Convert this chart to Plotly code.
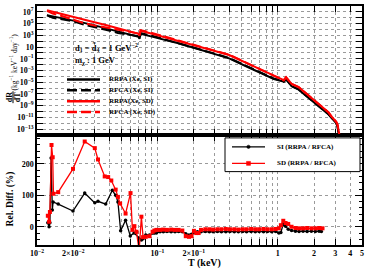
import numpy as np
import plotly.graph_objects as go

# ---------------- data: top panel (log10 of dR/dT) ----------------
T_rate = [0.0121, 0.0135, 0.015, 0.0175, 0.0199, 0.024, 0.03, 0.0379, 0.047, 0.058,
          0.0697, 0.0711, 0.0725, 0.09, 0.12, 0.152, 0.2, 0.28, 0.394, 0.55,
          0.75, 0.927, 1.05, 1.12, 1.17, 1.3, 1.49, 1.7, 1.91, 2.1,
          2.31, 2.5, 2.64, 2.79, 2.95, 3.05, 3.13, 3.2, 3.26]
si_rrpa_log10 = [6.44, 6.25, 6.06, 5.79, 5.59, 5.16, 4.69, 4.16, 3.67, 3.17,
                 2.75, 2.41, 3.26, 2.77, 2.14, 1.61, 0.88, -0.02, -0.94, -2.32,
                 -3.60, -4.45, -4.75, -4.90, -4.48, -5.69, -6.27, -7.25, -8.14, -8.82,
                 -9.50, -10.09, -10.52, -11.10, -11.62, -12.00, -12.56, -14.26, -15.10]
si_rfca_log10 = [6.39, 6.00, 5.82, 5.59, 5.41, 4.86, 4.45, 3.92, 3.41, 3.12,
                 2.85, 2.56, 3.38, 2.92, 2.20, 1.67, 0.95, 0.05, -0.87, -2.25,
                 -3.53, -4.38, -4.70, -4.92, -4.50, -5.66, -6.23, -7.21, -8.10, -8.78,
                 -9.46, -10.05, -10.48, -11.06, -11.58, -11.96, -12.52, -14.20, -15.00]
sd_rrpa_log10 = [7.29, 7.03, 6.80, 6.44, 6.15, 5.72, 5.23, 4.72, 4.21, 3.70,
                 3.26, 2.92, 3.77, 3.26, 2.58, 2.02, 1.34, 0.50, -0.36, -1.74,
                 -3.02, -3.88, -4.39, -4.65, -4.14, -5.30, -5.85, -6.84, -7.74, -8.46,
                 -9.16, -9.75, -10.18, -10.86, -11.40, -11.76, -12.22, -13.07, -14.26]
sd_rfca_log10 = [7.16, 6.71, 6.48, 6.04, 5.69, 5.15, 4.69, 4.31, 3.92, 3.50,
                 3.31, 3.07, 3.87, 3.41, 2.63, 2.07, 1.39, 0.55, -0.31, -1.70,
                 -2.98, -3.84, -4.36, -4.70, -4.18, -5.28, -5.83, -6.82, -7.72, -8.44,
                 -9.14, -9.73, -10.16, -10.84, -11.38, -11.74, -12.20, -13.05, -14.24]

# ---------------- data: bottom panel (relative difference, %) ----------------
T_si = [0.0123, 0.0126, 0.0128, 0.0131, 0.0134, 0.0136, 0.0150, 0.0199, 0.0249, 0.0302,
        0.0321, 0.0372, 0.0422, 0.0450, 0.0470, 0.0495, 0.0544, 0.0595, 0.0640, 0.0700,
        0.0736, 0.0760, 0.0800, 0.0860, 0.0944, 0.0981, 0.105, 0.112, 0.120, 0.130,
        0.140, 0.150, 0.161, 0.172, 0.183, 0.192, 0.201, 0.215, 0.230, 0.250,
        0.270, 0.290, 0.315, 0.340, 0.370, 0.400, 0.435, 0.470, 0.510, 0.550,
        0.600, 0.650, 0.700, 0.760, 0.820, 0.890, 0.960, 1.02, 1.06, 1.11,
        1.16, 1.22, 1.30, 1.40, 1.50, 1.62, 1.75, 1.90, 2.05, 2.20,
        2.30]
si_reldiff = [13, 0, 13, 219, 53, 79, 72, 50, 107, 76,
              81, 72, 116, 100, 79, -13, 21, -29, -20, -36,
              -42, -38, -26, -26, -20, -20, -16, -16, -15, -16,
              -16, -15, -16, -22, -26, -24, -18, -16, -16, -15,
              -16, -16, -15, -16, -16, -15, -16, -16, -15, -16,
              -15, -16, -15, -16, -15, -16, -15, -20, -18, 9,
              2, -8, -12, -14, -15, -14, -15, -14, -15, -14,
              -15]
T_sd = [0.0123, 0.0126, 0.0128, 0.0132, 0.0135, 0.0137, 0.0150, 0.0199, 0.0249, 0.0302,
        0.0321, 0.0365, 0.0390, 0.0414, 0.0450, 0.0470, 0.0490, 0.0544, 0.0598, 0.0620,
        0.0644, 0.0670, 0.0705, 0.0736, 0.0760, 0.0800, 0.0860, 0.0912, 0.0944, 0.0981,
        0.105, 0.112, 0.120, 0.130, 0.140, 0.150, 0.161, 0.172, 0.183, 0.192,
        0.201, 0.210, 0.220, 0.230, 0.250, 0.270, 0.290, 0.315, 0.340, 0.370,
        0.400, 0.435, 0.470, 0.510, 0.550, 0.600, 0.650, 0.700, 0.760, 0.820,
        0.890, 0.960, 1.02, 1.06, 1.11, 1.16, 1.22, 1.30, 1.40, 1.50,
        1.62, 1.75, 1.90, 2.05, 2.20, 2.35]
sd_reldiff = [35, 16, 47, 260, 221, 105, 110, 184, 271, 250,
              214, 160, 158, 147, 118, 95, 74, 42, 107, -10,
              2, -16, -75, 32, -33, -32, -30, -16, -12, -10,
              -10, -9, -10, -9, -10, -10, -12, -30, -32, -30,
              -13, -20, -20, -10, -8, -8, -9, -8, -8, -7,
              -8, -8, -9, -8, -8, -7, -8, -8, -7, -8,
              -8, -7, -5, 5, 19, 12, 9, 0, -4, -5,
              -5, -4, -5, -5, -4, -5]

assert len(T_si) == len(si_reldiff) and len(T_sd) == len(sd_reldiff)
for a in (si_rrpa_log10, si_rfca_log10, sd_rrpa_log10, sd_rfca_log10):
    assert len(a) == len(T_rate)

# ---------------- tick labels ----------------
x_tickvals = [0.01, 0.02, 0.03, 0.04, 0.05, 0.06, 0.07, 0.08, 0.09,
              0.1, 0.2, 0.3, 0.4, 0.5, 0.6, 0.7, 0.8, 0.9, 1, 2, 3, 4, 5]
x_ticktext = ["10<sup>−2</sup>", "2×10<sup>−2</sup>", "", "", "", "", "", "", "",
              "10<sup>−1</sup>", "2×10<sup>−1</sup>", "", "", "", "", "", "", "",
              "1", "2", "3", "4", "5"]
rate_exponents = list(range(-14, 9))
rate_ticktext = [("10" if e == 1 else "10<sup>%s</sup>" % str(e).replace("-", "−")) if e % 2 else ""
                 for e in rate_exponents]
diff_tickvals = [0, 100, 200]
diff_ticktext = ["0", "100", "200"]

# ---------------- layout geometry ----------------
W, H = 374, 270
L, R, TM, B = 37, 12, 4, 25
SPLIT = 134  # pixel row where the two panels meet


def px(x):
    return (x - L) / (W - L - R)


def py(y):
    return (H - B - y) / (H - TM - B)


FONT = "Liberation Serif"
BLACK = "#000000"
RED = "#ff0000"

fig = go.Figure()

# top panel curves
top_series = [
    (si_rrpa_log10, BLACK, "solid"),
    (si_rfca_log10, BLACK, "10px,4px"),
    (sd_rrpa_log10, RED, "solid"),
    (sd_rfca_log10, RED, "10px,4px"),
]
for vals, col, dash in top_series:
    fig.add_trace(go.Scatter(x=T_rate, y=10.0 ** np.array(vals), mode="lines",
                             line=dict(color=col, width=2, dash=dash),
                             xaxis="x2", yaxis="y2", showlegend=False))

# bottom panel
fig.add_trace(go.Scatter(x=T_si, y=si_reldiff, mode="lines+markers",
                         line=dict(color=BLACK, width=1.3),
                         marker=dict(color=BLACK, size=3.5, symbol="circle"),
                         xaxis="x", yaxis="y", showlegend=False))
fig.add_trace(go.Scatter(x=T_sd, y=sd_reldiff, mode="lines+markers",
                         line=dict(color=RED, width=1.3),
                         marker=dict(color=RED, size=4, symbol="square"),
                         xaxis="x", yaxis="y", showlegend=False))

dom_split = py(SPLIT)
grid = dict(showgrid=True, gridcolor="#9a9a9a", gridwidth=1, griddash="dot")
axline = dict(showline=True, linecolor=BLACK, linewidth=1.5, mirror="ticks",
              ticks="inside", tickcolor=BLACK, zeroline=False)
tickfont = dict(family=FONT, size=8, color=BLACK, weight="bold")

fig.update_layout(
    width=W, height=H,
    margin=dict(l=L, r=R, t=TM, b=B),
    paper_bgcolor="white", plot_bgcolor="white",
    showlegend=False,
    xaxis=dict(type="log", range=[-2, np.log10(5)], domain=[0, 1], anchor="y",
               tickmode="array", tickvals=x_tickvals, ticktext=x_ticktext,
               ticklen=6, tickfont=dict(family=FONT, size=8, color=BLACK, weight="bold"),
               **grid, **axline),
    yaxis=dict(range=[-58, 292], domain=[0, dom_split], anchor="x",
               tickmode="array", tickvals=diff_tickvals, ticktext=diff_ticktext,
               ticklen=7, tickfont=tickfont,
               minor=dict(tickvals=[-40, -20, 20, 40, 60, 80, 120, 140, 160, 180, 220, 240, 260, 280],
                          ticklen=3, tickcolor=BLACK, ticks="inside", showgrid=False),
               **grid, **axline),
    xaxis2=dict(type="log", range=[-2, np.log10(5)], domain=[0, 1], anchor="y2",
                matches="x", tickmode="array", tickvals=x_tickvals,
                ticktext=[""] * len(x_tickvals), ticklen=6, showticklabels=False,
                **grid, **axline),
    yaxis2=dict(type="log", range=[-14, 8], domain=[dom_split, 1], anchor="x2",
                tickmode="array", tickvals=[10.0 ** e for e in rate_exponents],
                ticktext=rate_ticktext, ticklen=6, tickfont=tickfont,
                **grid, **axline),
)

annotations = []
shapes = []

# panel separator (two frames meet here)
shapes.append(dict(type="line", xref="paper", yref="paper", x0=0, x1=1,
                   y0=dom_split, y1=dom_split, line=dict(color=BLACK, width=2)))

# annotations in top panel
annotations.append(dict(text="d<sub>1</sub> = d̃<sub>4</sub> = 1 GeV<sup>−2</sup>",
                        x=px(73), y=py(46), xref="paper", yref="paper",
                        xanchor="left", yanchor="middle", showarrow=False,
                        font=dict(family=FONT, size=8.5, color=BLACK, weight="bold")))
annotations.append(dict(text="m<sub>χ</sub> : 1 GeV",
                        x=px(73), y=py(59), xref="paper", yref="paper",
                        xanchor="left", yanchor="middle", showarrow=False,
                        font=dict(family=FONT, size=8.5, color=BLACK, weight="bold")))

# top legend (no frame)
top_legend = [("RRPA (Xe, SI)", BLACK, "solid", 78),
              ("RFCA (Xe, SI)", BLACK, "10px,4px", 89),
              ("RRPA(Xe, SD)", RED, "solid", 100),
              ("RFCA (Xe, SD)", RED, "10px,4px", 111)]
for label, col, dash, yy in top_legend:
    shapes.append(dict(type="line", xref="paper", yref="paper",
                       x0=px(67), x1=px(100), y0=py(yy), y1=py(yy),
                       line=dict(color=col, width=2.5, dash=dash)))
    annotations.append(dict(text=label, x=px(107), y=py(yy), xref="paper", yref="paper",
                            xanchor="left", yanchor="middle", showarrow=False,
                            font=dict(family=FONT, size=7, color=BLACK, weight="bold")))

# bottom legend (framed)
shapes.append(dict(type="rect", xref="paper", yref="paper",
                   x0=px(225), x1=px(360), y0=py(171), y1=py(137),
                   line=dict(color=BLACK, width=1), fillcolor="white", layer="above"))
bot_legend = [("SI (RRPA / RFCA)", BLACK, "circle", 146),
              ("SD (RRPA / RFCA)", RED, "rect", 162.7)]
for label, col, sym, yy in bot_legend:
    shapes.append(dict(type="line", xref="paper", yref="paper",
                       x0=px(232), x1=px(265), y0=py(yy), y1=py(yy),
                       line=dict(color=col, width=1.3), layer="above"))
    r = 1.7 if sym == "circle" else 2.0
    shapes.append(dict(type=sym, xref="paper", yref="paper",
                       x0=px(248.5 - r), x1=px(248.5 + r), y0=py(yy + r), y1=py(yy - r),
                       line=dict(color=col, width=0.5), fillcolor=col, layer="above"))
    annotations.append(dict(text=label, x=px(275), y=py(yy), xref="paper", yref="paper",
                            xanchor="left", yanchor="middle", showarrow=False,
                            font=dict(family=FONT, size=7, color=BLACK, weight="bold")))

# axis titles
annotations.append(dict(text="dR", x=px(9), y=py(96), xref="paper", yref="paper",
                        textangle=-90, showarrow=False, xanchor="center", yanchor="middle",
                        font=dict(family=FONT, size=8, color=BLACK, weight="bold")))
annotations.append(dict(text="dT", x=px(17), y=py(96), xref="paper", yref="paper",
                        textangle=-90, showarrow=False, xanchor="center", yanchor="middle",
                        font=dict(family=FONT, size=8, color=BLACK, weight="bold")))
shapes.append(dict(type="line", xref="paper", yref="paper", x0=px(13), x1=px(13),
                   y0=py(90), y1=py(102), line=dict(color=BLACK, width=1)))
annotations.append(dict(text="(kg<sup>−1</sup> keV<sup>−1</sup> day<sup>−1</sup>)",
                        x=px(13), y=py(60), xref="paper", yref="paper",
                        textangle=-90, showarrow=False, xanchor="center", yanchor="middle",
                        font=dict(family=FONT, size=7.5, color=BLACK)))
annotations.append(dict(text="Rel. Diff. (%)", x=px(10), y=py(199), xref="paper", yref="paper",
                        textangle=-90, showarrow=False, xanchor="center", yanchor="middle",
                        font=dict(family=FONT, size=9.5, color=BLACK, weight="bold")))
annotations.append(dict(text="T (keV)", x=px(204), y=py(263.5), xref="paper", yref="paper",
                        showarrow=False, xanchor="center", yanchor="middle",
                        font=dict(family=FONT, size=10, color=BLACK, weight="bold")))

fig.update_layout(annotations=annotations, shapes=shapes)

fig.write_html("out.html", config={"displayModeBar": False},
               post_script="document.body.style.margin='0';")
